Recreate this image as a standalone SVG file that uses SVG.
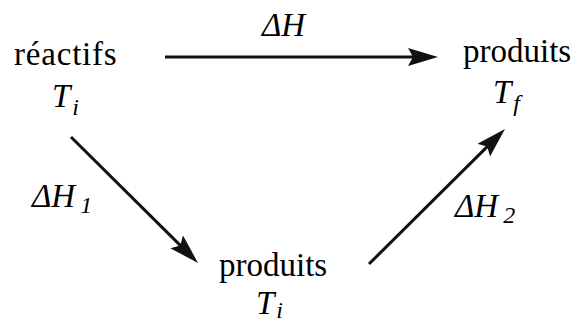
<svg xmlns="http://www.w3.org/2000/svg" width="577" height="324" viewBox="0 0 577 324">
<defs>
<marker id="ah" markerUnits="userSpaceOnUse" markerWidth="32" markerHeight="20" refX="10" refY="9" orient="auto" viewBox="0 0 32 20">
<path d="M0,0 L30,9 L0,18 L5,9 z" fill="#111"/>
</marker>
</defs>
<g id="connectors" stroke="#111" stroke-width="3" fill="none" marker-end="url(#ah)">
<line x1="165" y1="57" x2="418" y2="57"/>
<line x1="71" y1="137" x2="183.8" y2="248.9"/>
<line x1="369" y1="264" x2="490.8" y2="143.1"/>
</g>
<g id="labels">
<text font-family="Liberation Serif, serif" font-size="33" font-style="italic" x="262" y="36">ΔH</text>
<text font-family="Liberation Serif, serif" font-size="33" font-style="italic" x="32" y="207">ΔH<tspan font-size="24" dx="5" dy="6">1</tspan></text>
<text font-family="Liberation Serif, serif" font-size="33" font-style="italic" x="455" y="217">ΔH<tspan font-size="24" dx="5" dy="6">2</tspan></text>
</g>
<g id="reactifs">
<text font-family="Liberation Serif, serif" font-size="33" x="14" y="65" letter-spacing="0.8">réactifs</text>
<text font-family="Liberation Serif, serif" font-size="33" font-style="italic" x="52" y="107">T<tspan font-size="24" dx="2" dy="8">i</tspan></text>
</g>
<g id="produits-f">
<text font-family="Liberation Serif, serif" font-size="33" x="463" y="62">produits</text>
<text font-family="Liberation Serif, serif" font-size="33" font-style="italic" x="493" y="103">T<tspan font-size="24" dx="2" dy="8">f</tspan></text>
</g>
<g id="produits-i">
<text font-family="Liberation Serif, serif" font-size="33" x="219" y="276">produits</text>
<text font-family="Liberation Serif, serif" font-size="33" font-style="italic" x="256" y="314">T<tspan font-size="24" dx="2" dy="4">i</tspan></text>
</g>
</svg>
